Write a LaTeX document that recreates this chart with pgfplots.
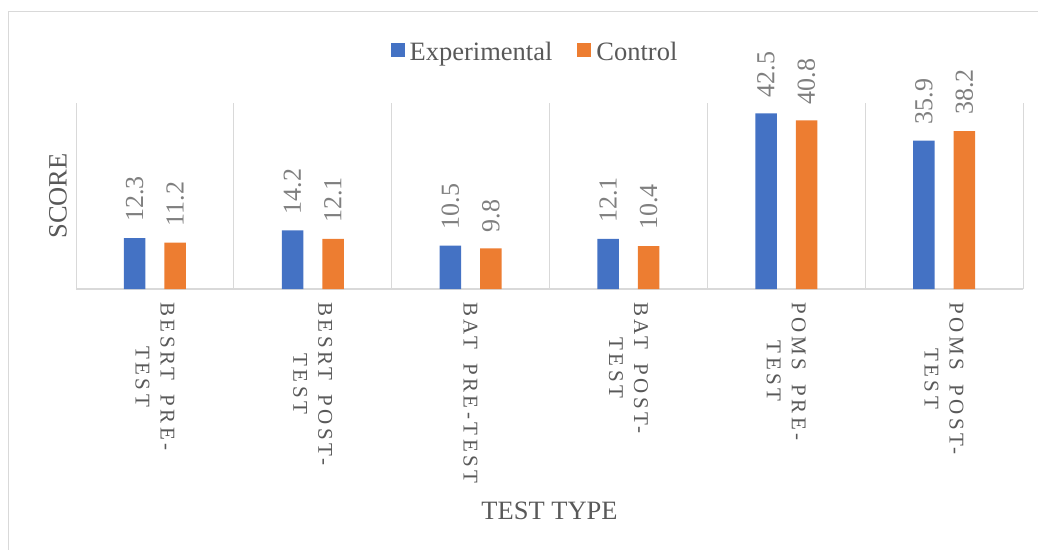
\documentclass[border=0pt]{standalone}
\usepackage{fontspec}
\setmainfont{Liberation Serif}
\newfontfamily\spaced[LetterSpace=17,WordSpace=1.6]{Liberation Serif}
\usepackage{pgfplots}
\pgfplotsset{compat=1.18}
\definecolor{expblue}{HTML}{4472C4}
\definecolor{ctrlorange}{HTML}{ED7D31}
\definecolor{txtgray}{HTML}{595959}
\definecolor{lblgray}{HTML}{7F7F7F}
\definecolor{linegray}{HTML}{D9D9D9}

\begin{document}
\begin{tikzpicture}
\path[use as bounding box] (0pt,0pt) rectangle (1038pt,549pt);
% chart frame (only top and left edges are in view)
\draw[linegray, line width=1pt] (8pt,-20pt) -- (8pt,537pt) -- (1060pt,537pt);
\begin{axis}[
  at={(76pt,260pt)}, anchor=south west,
  scale only axis, width=947pt, height=186pt,
  ybar=19pt, bar width=21.5pt,
  xmin=-0.5, xmax=5.5, ymin=0, ymax=45,
  clip=false,
  xtick={0,...,5},
  xticklabels={{BESRT PRE-\\TEST},{BESRT POST-\\TEST},{BAT PRE-TEST},{BAT POST-\\TEST},{POMS PRE-\\TEST},{POMS POST-\\TEST}},
  ytick=\empty,
  minor xtick={-0.5,0.5,...,5.5},
  xminorgrids=true,
  minor grid style={draw=linegray, line width=1pt},
  major tick length=0pt, minor tick length=0pt,
  axis x line=bottom, axis y line=left,
  x axis line style={-, draw=linegray, line width=1.5pt},
  y axis line style={draw=none},
  xticklabel style={rotate=-90, anchor=west, align=center, inner xsep=13pt, inner ysep=0pt,
    font=\spaced\fontsize{21}{25}\selectfont, text=txtgray},
  nodes near coords={\pgfmathprintnumber[fixed,precision=1,assume math mode=true]{\pgfplotspointmeta}},
  every node near coord/.append style={rotate=90, anchor=west, inner xsep=16pt, inner ysep=0pt,
    font=\fontsize{26}{30}\selectfont, text=lblgray},
  xlabel={TEST TYPE},
  xlabel style={at={(axis description cs:0.5,0)}, anchor=center, yshift=-222pt,
    font=\fontsize{26.5}{30}\selectfont, text=txtgray},
  ylabel={SCORE},
  ylabel style={at={(axis description cs:-0.019,0.5)}, anchor=center,
    font=\fontsize{26.5}{30}\selectfont, text=txtgray},
  legend columns=-1,
  legend style={at={(axis description cs:0.4847,1.274)}, anchor=center, draw=none, fill=none,
    font=\fontsize{26.5}{30}\selectfont, text=txtgray,
    /tikz/every even column/.append style={column sep=23pt}},
  legend image code/.code={\fill[#1, draw=none] (0pt,-5pt) rectangle (14pt,9pt); \path (17pt,0pt);},
]
\addplot[fill=expblue, draw=none] coordinates {(0,12.3) (1,14.2) (2,10.5) (3,12.1) (4,42.5) (5,35.9)};
\addplot[fill=ctrlorange, draw=none] coordinates {(0,11.2) (1,12.1) (2,9.8) (3,10.4) (4,40.8) (5,38.2)};
\legend{Experimental, Control}
\end{axis}
\end{tikzpicture}
\end{document}
